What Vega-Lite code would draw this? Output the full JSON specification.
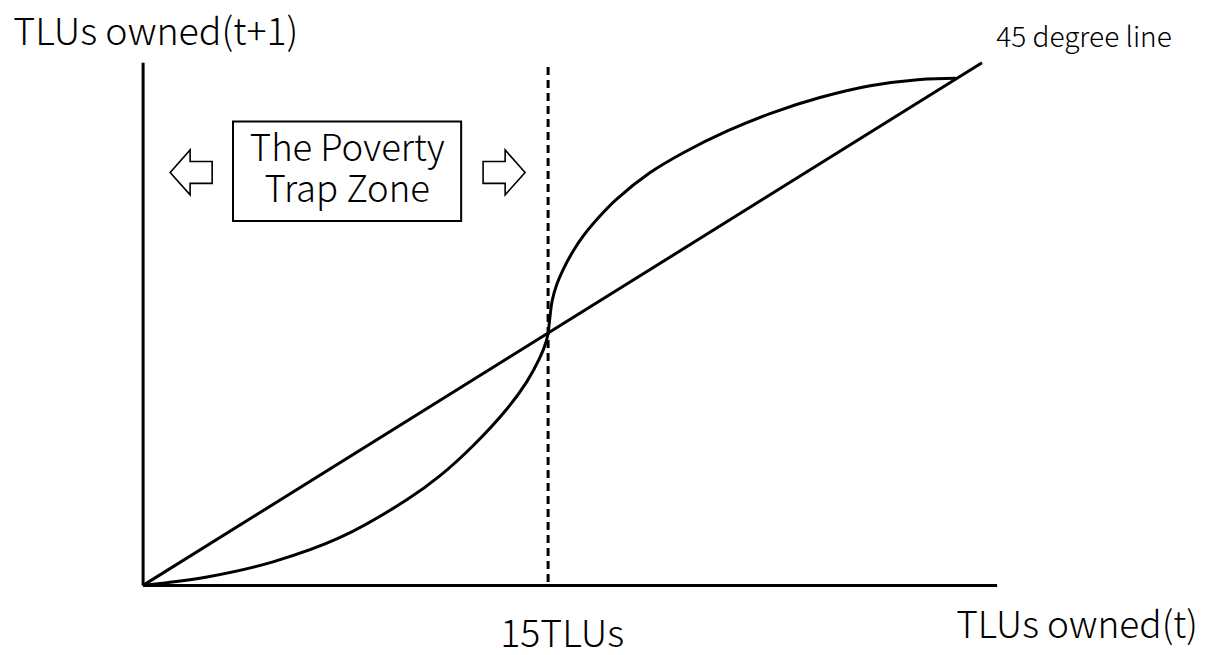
{
  "$schema": "https://vega.github.io/schema/vega-lite/v6.json",
  "width": 1205,
  "height": 655,
  "autosize": {"type": "fit", "contains": "padding"},
  "padding": 0,
  "background": "white",
  "config": {"view": {"stroke": null}},
  "datasets": {
    "lines": [
      {"series": "axisY", "order": 0, "x": 0, "y": 0},
      {"series": "axisY", "order": 1, "x": 0, "y": 31.07},
      {"series": "axisX", "order": 0, "x": 0, "y": 0},
      {"series": "axisX", "order": 1, "x": 31.63, "y": 0},
      {"series": "diag", "order": 0, "x": 0, "y": 0},
      {"series": "diag", "order": 1, "x": 31.07, "y": 31.07},
      {"series": "curve", "order": 0, "x": 0, "y": 0},
      {"series": "curve", "order": 1, "x": 2.37, "y": 0.5},
      {"series": "curve", "order": 2, "x": 4.81, "y": 1.4},
      {"series": "curve", "order": 3, "x": 7.3, "y": 2.85},
      {"series": "curve", "order": 4, "x": 9.78, "y": 5.1},
      {"series": "curve", "order": 5, "x": 11.0, "y": 6.52},
      {"series": "curve", "order": 6, "x": 12.22, "y": 8.3},
      {"series": "curve", "order": 7, "x": 13.48, "y": 10.5},
      {"series": "curve", "order": 8, "x": 14.22, "y": 12.13},
      {"series": "curve", "order": 9, "x": 14.7, "y": 13.55},
      {"series": "curve", "order": 10, "x": 14.93, "y": 14.5},
      {"series": "curve", "order": 11, "x": 15.0, "y": 15.0},
      {"series": "curve", "order": 12, "x": 15.07, "y": 15.98},
      {"series": "curve", "order": 13, "x": 15.15, "y": 16.92},
      {"series": "curve", "order": 14, "x": 15.33, "y": 17.93},
      {"series": "curve", "order": 15, "x": 15.57, "y": 18.82},
      {"series": "curve", "order": 16, "x": 15.93, "y": 19.88},
      {"series": "curve", "order": 17, "x": 16.31, "y": 20.79},
      {"series": "curve", "order": 18, "x": 16.93, "y": 21.97},
      {"series": "curve", "order": 19, "x": 17.54, "y": 22.96},
      {"series": "curve", "order": 20, "x": 18.78, "y": 24.54},
      {"series": "curve", "order": 21, "x": 20.01, "y": 25.72},
      {"series": "curve", "order": 22, "x": 21.62, "y": 27.0},
      {"series": "curve", "order": 23, "x": 23.22, "y": 28.05},
      {"series": "curve", "order": 24, "x": 25.07, "y": 29.0},
      {"series": "curve", "order": 25, "x": 26.93, "y": 29.7},
      {"series": "curve", "order": 26, "x": 28.78, "y": 30.08},
      {"series": "curve", "order": 27, "x": 30.11, "y": 30.15},
      {"series": "threshold", "order": 0, "x": 15, "y": 0.2},
      {"series": "threshold", "order": 1, "x": 15, "y": 31.07}
    ],
    "box": [{"x": 3.33, "x2": 11.78, "y": 27.57, "y2": 21.66}],
    "labels": [
      {"role": "axis", "text": "TLUs owned(t+1)", "x": -4.81, "y": 32.13},
      {"role": "axisEnd", "text": "TLUs owned(t)", "x": 39.07, "y": -3.14},
      {"role": "tick", "text": "15TLUs", "x": 15.52, "y": -3.66},
      {"role": "note", "text": "45 degree line", "x": 31.6, "y": 32.01},
      {"role": "box", "text": "The Poverty", "x": 7.56, "y": 25.21},
      {"role": "box", "text": "Trap Zone", "x": 7.56, "y": 22.78}
    ],
    "arrows": [
      {"dir": "left", "x": 1.78, "y": 24.55},
      {"dir": "right", "x": 13.37, "y": 24.55}
    ]
  },
  "encoding": {
    "x": {"field": "x", "type": "quantitative", "scale": {"domain": [-5.3, 39.33], "nice": false, "zero": false}, "axis": null},
    "y": {"field": "y", "type": "quantitative", "scale": {"domain": [-3.96, 34.8], "nice": false, "zero": false}, "axis": null}
  },
  "layer": [
    {
      "data": {"name": "lines"},
      "transform": [{"filter": "datum.series !== 'threshold'"}],
      "mark": {"type": "line", "color": "black", "strokeWidth": 3, "interpolate": "catmull-rom", "strokeCap": "butt"},
      "encoding": {
        "detail": {"field": "series"},
        "order": {"field": "order", "type": "quantitative"}
      }
    },
    {
      "data": {"name": "lines"},
      "transform": [{"filter": "datum.series === 'threshold'"}],
      "mark": {"type": "line", "color": "black", "strokeWidth": 3, "strokeDash": [8, 5], "strokeCap": "butt"},
      "encoding": {
        "order": {"field": "order", "type": "quantitative"}
      }
    },
    {
      "data": {"name": "box"},
      "mark": {"type": "rect", "fill": "white", "stroke": "black", "strokeWidth": 2},
      "encoding": {
        "x2": {"field": "x2"},
        "y2": {"field": "y2"}
      }
    },
    {
      "data": {"name": "arrows"},
      "mark": {"type": "point", "filled": false, "stroke": "black", "strokeWidth": 1.6, "size": 1764, "opacity": 1},
      "encoding": {
        "shape": {
          "field": "dir",
          "type": "nominal",
          "scale": {
            "domain": ["left", "right"],
            "range": [
              "M-1,0 L-0.05,-1.07 L-0.05,-0.52 L1,-0.52 L1,0.52 L-0.05,0.52 L-0.05,1.07 Z",
              "M1,0 L0.05,-1.07 L0.05,-0.52 L-1,-0.52 L-1,0.52 L0.05,0.52 L0.05,1.07 Z"
            ]
          },
          "legend": null
        }
      }
    },
    {
      "data": {"name": "labels"},
      "transform": [{"filter": "datum.role === 'axis'"}],
      "mark": {"type": "text", "align": "left", "baseline": "alphabetic", "fontSize": 37.5, "fontWeight": 300, "font": "Noto Sans CJK JP", "color": "black"},
      "encoding": {"text": {"field": "text"}}
    },
    {
      "data": {"name": "labels"},
      "transform": [{"filter": "datum.role === 'axisEnd'"}],
      "mark": {"type": "text", "align": "right", "baseline": "alphabetic", "fontSize": 37, "fontWeight": 300, "font": "Noto Sans CJK JP", "color": "black"},
      "encoding": {"text": {"field": "text"}}
    },
    {
      "data": {"name": "labels"},
      "transform": [{"filter": "datum.role === 'tick'"}],
      "mark": {"type": "text", "align": "center", "baseline": "alphabetic", "fontSize": 37.5, "fontWeight": 300, "font": "Noto Sans CJK JP", "color": "black"},
      "encoding": {"text": {"field": "text"}}
    },
    {
      "data": {"name": "labels"},
      "transform": [{"filter": "datum.role === 'note'"}],
      "mark": {"type": "text", "align": "left", "baseline": "alphabetic", "fontSize": 28, "fontWeight": 300, "font": "Noto Sans CJK JP", "color": "black"},
      "encoding": {"text": {"field": "text"}}
    },
    {
      "data": {"name": "labels"},
      "transform": [{"filter": "datum.role === 'box'"}],
      "mark": {"type": "text", "align": "center", "baseline": "alphabetic", "fontSize": 36.5, "fontWeight": 300, "font": "Noto Sans CJK JP", "color": "black"},
      "encoding": {"text": {"field": "text"}}
    }
  ]
}
